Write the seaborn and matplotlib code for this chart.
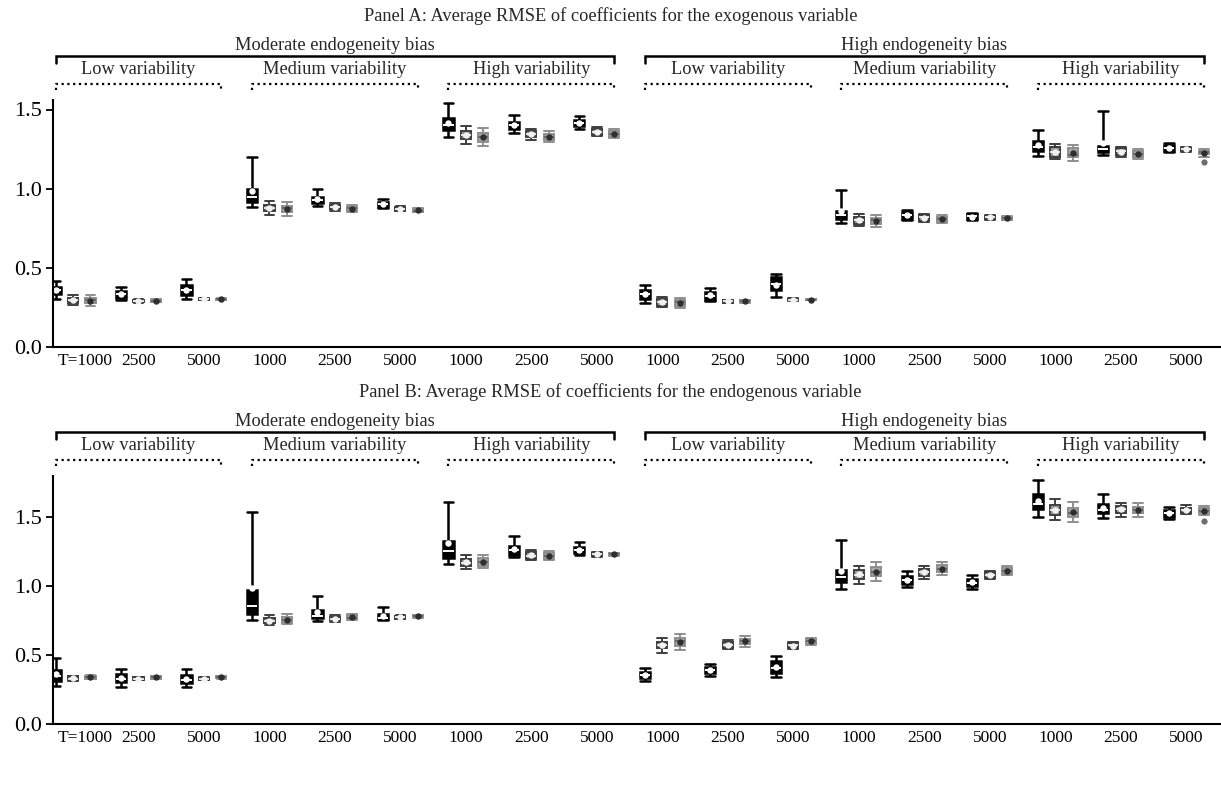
import numpy as np
import pandas as pd
import matplotlib
matplotlib.use("Agg")
import matplotlib.pyplot as plt
import seaborn as sns
from matplotlib import transforms

# ---------------- data (five-number summaries) ----------------
# each tuple: (lower whisker, Q1, median, Q3, upper whisker); 18 design cells per panel
estimators = ["Estimator 1", "Estimator 2", "Estimator 3"]
tick_labels = ["T=1000", "2500", "5000"] + ["1000", "2500", "5000"] * 5
bias_labels = ["Moderate endogeneity bias", "High endogeneity bias"]
var_labels = ["Low variability", "Medium variability", "High variability"]
panel_titles = ["Panel A: Average RMSE of coefficients for the exogenous variable",
                "Panel B: Average RMSE of coefficients for the endogenous variable"]

panelA_est1 = [(0.305, 0.336, 0.36, 0.378, 0.414), (0.294, 0.309, 0.335, 0.351, 0.378),
               (0.305, 0.33, 0.36, 0.389, 0.43), (0.882, 0.918, 0.945, 1.0, 1.197),
               (0.89, 0.908, 0.93, 0.95, 1.0), (0.88, 0.887, 0.905, 0.918, 0.935),
               (1.328, 1.37, 1.40, 1.447, 1.538), (1.349, 1.376, 1.40, 1.422, 1.464),
               (1.376, 1.395, 1.415, 1.433, 1.458), (0.277, 0.305, 0.335, 0.357, 0.389),
               (0.288, 0.298, 0.325, 0.347, 0.372), (0.315, 0.357, 0.40, 0.441, 0.46),
               (0.786, 0.807, 0.835, 0.86, 0.992), (0.80, 0.807, 0.835, 0.851, 0.866),
               (0.80, 0.807, 0.825, 0.84, 0.849), (1.208, 1.24, 1.265, 1.30, 1.37),
               (1.212, 1.233, 1.25, 1.271, 1.49), (1.233, 1.237, 1.26, 1.275, 1.286)]
panelA_est2 = [(0.263, 0.277, 0.295, 0.309, 0.326), (0.278, 0.283, 0.292, 0.30, 0.305),
               (0.295, 0.298, 0.302, 0.306, 0.31), (0.834, 0.861, 0.88, 0.897, 0.922),
               (0.86, 0.87, 0.885, 0.895, 0.91), (0.858, 0.862, 0.872, 0.883, 0.89),
               (1.282, 1.311, 1.34, 1.363, 1.397), (1.307, 1.328, 1.345, 1.363, 1.38),
               (1.332, 1.342, 1.36, 1.375, 1.39), (0.252, 0.26, 0.285, 0.303, 0.315),
               (0.278, 0.281, 0.29, 0.297, 0.30), (0.293, 0.296, 0.30, 0.304, 0.307),
               (0.765, 0.777, 0.80, 0.824, 0.838), (0.788, 0.798, 0.82, 0.834, 0.84),
               (0.805, 0.81, 0.82, 0.83, 0.835), (1.185, 1.202, 1.23, 1.265, 1.282),
               (1.202, 1.212, 1.235, 1.254, 1.265), (1.23, 1.235, 1.248, 1.26, 1.265)]
panelA_est3 = [(0.256, 0.277, 0.295, 0.309, 0.326), (0.283, 0.286, 0.292, 0.298, 0.302),
               (0.296, 0.298, 0.302, 0.306, 0.309), (0.828, 0.85, 0.875, 0.89, 0.914),
               (0.851, 0.861, 0.875, 0.886, 0.90), (0.85, 0.855, 0.862, 0.87, 0.875),
               (1.269, 1.292, 1.325, 1.349, 1.384), (1.292, 1.307, 1.328, 1.345, 1.366),
               (1.323, 1.328, 1.345, 1.363, 1.374), (0.246, 0.256, 0.285, 0.298, 0.309),
               (0.279, 0.282, 0.29, 0.297, 0.30), (0.294, 0.297, 0.30, 0.303, 0.306),
               (0.76, 0.775, 0.80, 0.817, 0.834), (0.786, 0.792, 0.81, 0.824, 0.834),
               (0.80, 0.805, 0.812, 0.82, 0.825), (1.174, 1.197, 1.215, 1.254, 1.275),
               (1.187, 1.197, 1.22, 1.237, 1.25), (1.197, 1.218, 1.23, 1.24, 1.248)]

panelB_est1 = [(0.277, 0.313, 0.35, 0.393, 0.482), (0.272, 0.308, 0.33, 0.361, 0.398),
               (0.265, 0.296, 0.32, 0.354, 0.398), (0.752, 0.802, 0.86, 0.971, 1.537),
               (0.747, 0.766, 0.785, 0.831, 0.928), (0.752, 0.759, 0.77, 0.802, 0.848),
               (1.161, 1.205, 1.255, 1.33, 1.61), (1.21, 1.229, 1.26, 1.294, 1.366),
               (1.224, 1.241, 1.26, 1.282, 1.32), (0.31, 0.335, 0.355, 0.38, 0.41),
               (0.345, 0.369, 0.39, 0.414, 0.434), (0.342, 0.373, 0.41, 0.458, 0.494),
               (0.983, 1.029, 1.07, 1.12, 1.333), (0.993, 1.019, 1.045, 1.072, 1.108),
               (0.983, 1.0, 1.02, 1.053, 1.08), (1.501, 1.559, 1.60, 1.667, 1.771),
               (1.494, 1.53, 1.555, 1.595, 1.67), (1.489, 1.506, 1.53, 1.554, 1.578)]
panelB_est2 = [(0.315, 0.32, 0.33, 0.345, 0.35), (0.32, 0.322, 0.33, 0.338, 0.34),
               (0.32, 0.322, 0.328, 0.335, 0.338), (0.718, 0.73, 0.745, 0.766, 0.788),
               (0.742, 0.752, 0.76, 0.775, 0.79), (0.762, 0.765, 0.775, 0.785, 0.788),
               (1.128, 1.149, 1.17, 1.198, 1.224), (1.193, 1.20, 1.22, 1.246, 1.26),
               (1.215, 1.22, 1.232, 1.24, 1.245), (0.518, 0.549, 0.57, 0.598, 0.622),
               (0.542, 0.549, 0.57, 0.595, 0.61), (0.545, 0.55, 0.57, 0.585, 0.595),
               (1.019, 1.055, 1.085, 1.12, 1.149), (1.055, 1.077, 1.10, 1.125, 1.145),
               (1.053, 1.06, 1.08, 1.104, 1.113), (1.482, 1.518, 1.55, 1.586, 1.631),
               (1.506, 1.535, 1.56, 1.583, 1.607), (1.523, 1.53, 1.55, 1.571, 1.59)]
panelB_est3 = [(0.325, 0.33, 0.34, 0.35, 0.355), (0.328, 0.33, 0.338, 0.345, 0.348),
               (0.33, 0.332, 0.338, 0.345, 0.347), (0.728, 0.735, 0.755, 0.778, 0.795),
               (0.752, 0.759, 0.77, 0.79, 0.795), (0.772, 0.775, 0.782, 0.79, 0.793),
               (1.133, 1.145, 1.175, 1.205, 1.224), (1.193, 1.20, 1.22, 1.241, 1.253),
               (1.222, 1.225, 1.232, 1.24, 1.243), (0.537, 0.566, 0.60, 0.622, 0.655),
               (0.561, 0.578, 0.60, 0.619, 0.639), (0.571, 0.578, 0.60, 0.62, 0.627),
               (1.041, 1.072, 1.10, 1.14, 1.173), (1.084, 1.104, 1.125, 1.152, 1.173),
               (1.08, 1.092, 1.11, 1.133, 1.145), (1.463, 1.506, 1.53, 1.571, 1.614),
               (1.506, 1.53, 1.55, 1.578, 1.607), (1.518, 1.53, 1.545, 1.566, 1.583)]

# outlying points: (cell index, estimator, value)
panelA_fliers = [(17, "Estimator 3", 1.17)]
panelB_fliers = [(17, "Estimator 3", 1.475)]

panel_ylims = [1.56, 1.80]

# ---------------- build tables ----------------
def long_table(series_by_est):
    rows = []
    for est, cells in zip(estimators, series_by_est):
        for g, summary in enumerate(cells):
            for v in summary:
                rows.append({"cell": g, "est": est, "value": v})
    return pd.DataFrame(rows)

panels = [long_table([panelA_est1, panelA_est2, panelA_est3]),
          long_table([panelB_est1, panelB_est2, panelB_est3])]
flier_tables = [pd.DataFrame(panelA_fliers, columns=["cell", "est", "value"]),
                pd.DataFrame(panelB_fliers, columns=["cell", "est", "value"])]

# ---------------- style ----------------
sns.set_theme(style="ticks")
plt.rcParams['font.family'] = ['Liberation Serif', 'DejaVu Serif']
plt.rcParams['axes.linewidth'] = 1.5

fills = {"Estimator 1": "#000000", "Estimator 2": "#9a9a9a", "Estimator 3": "#a6a6a6"}
lines = {"Estimator 1": "#000000", "Estimator 2": "#3e3e3e", "Estimator 3": "#8e8e8e"}
flier_cols = {"Estimator 1": "#000000", "Estimator 2": "#3e3e3e", "Estimator 3": "#6e6e6e"}
lws = {"Estimator 1": 1.8, "Estimator 2": 1.4, "Estimator 3": 1.4}
medcol = {"Estimator 1": "#ffffff", "Estimator 2": "#e8e8e8", "Estimator 3": "#6a6a6a"}
meancol = {"Estimator 1": "#ffffff", "Estimator 2": "#f2f2f2", "Estimator 3": "#2e2e2e"}

W, H = 1221, 785
fig = plt.figure(figsize=(W / 100, H / 100), dpi=100)
ax_boxes = [(53, 100, 347), (53, 476, 724)]  # left px, top px, bottom px
order = list(range(18))
half_w = 0.8 / 3  # dodge offset of outer boxes
TXT = 13.2

for p, (df, fl, ylim_top, (lpx, tpx, bpx)) in enumerate(
        zip(panels, flier_tables, panel_ylims, ax_boxes)):
    ax = fig.add_axes([lpx / W, 1 - bpx / H, (W - lpx) / W, (bpx - tpx) / H])
    h_px = bpx - tpx
    for est in estimators:
        sub = df[df["est"] == est]
        sns.boxplot(data=sub, x="cell", y="value", hue="est", order=order,
                    hue_order=estimators, palette=fills, saturation=1, dodge=True,
                    width=0.8, gap=0.42, whis=np.inf, linecolor=lines[est],
                    linewidth=lws[est], showfliers=False, legend=False, ax=ax,
                    showmeans=True, capwidths=0.15,
                    meanprops=dict(marker="o", markerfacecolor=meancol[est],
                                   markeredgecolor=meancol[est], markersize=3.6),
                    medianprops=dict(color=medcol[est], linewidth=1.4))
    sns.stripplot(data=fl, x="cell", y="value", hue="est", order=order,
                  hue_order=estimators, palette=flier_cols, dodge=True, jitter=False,
                  size=4.5, legend=False, ax=ax)

    ax.set_xlim(-0.305, 17.53)
    ax.set_ylim(0, ylim_top)
    ax.set_yticks([0.0, 0.5, 1.0, 1.5])
    ax.set_yticklabels(["0.0", "0.5", "1.0", "1.5"])
    ax.set_xticks(order)
    ax.set_xticklabels(tick_labels)
    ax.set_xlabel("")
    ax.set_ylabel("")
    sns.despine(ax=ax)
    ax.tick_params(axis="y", length=5, width=1.3, labelsize=16, pad=3, colors="black")
    ax.tick_params(axis="x", length=0, labelsize=12.5, pad=4, colors="black")
    for s in ["left", "bottom"]:
        ax.spines[s].set_color("black")
        ax.spines[s].set_linewidth(1.5)
    first = ax.get_xticklabels()[0]
    first.set_transform(first.get_transform() +
                        transforms.ScaledTranslation(0.12, 0, fig.dpi_scale_trans))

    trans = transforms.blended_transform_factory(ax.transData, ax.transAxes)
    yf = lambda d: 1 + d / h_px

    # panel title
    fig.text(0.5, 1 - (tpx - 84) / H, panel_titles[p], ha="center", va="center",
             fontsize=TXT)
    for b in range(2):
        g0, g1 = 9 * b, 9 * b + 8
        x0, x1 = g0 - half_w, g1 + half_w
        ax.plot([x0, x0, x1, x1], [yf(37), yf(44), yf(44), yf(37)], color="black",
                lw=1.8, transform=trans, clip_on=False, solid_joinstyle="miter")
        ax.text((x0 + x1) / 2, yf(55), bias_labels[b], transform=trans,
                ha="center", va="center", fontsize=TXT)
        for v in range(3):
            s0, s1 = g0 + 3 * v, g0 + 3 * v + 2
            a0, a1 = s0 - half_w, s1 + half_w
            ax.plot([a0, a0, a1, a1], [yf(10), yf(16), yf(16), yf(10)], color="black",
                    lw=1.6, ls=(0, (1, 1.6)), transform=trans, clip_on=False)
            ax.text((a0 + a1) / 2, yf(30), var_labels[v], transform=trans,
                    ha="center", va="center", fontsize=TXT)

fig.savefig("out.png", dpi=100)
